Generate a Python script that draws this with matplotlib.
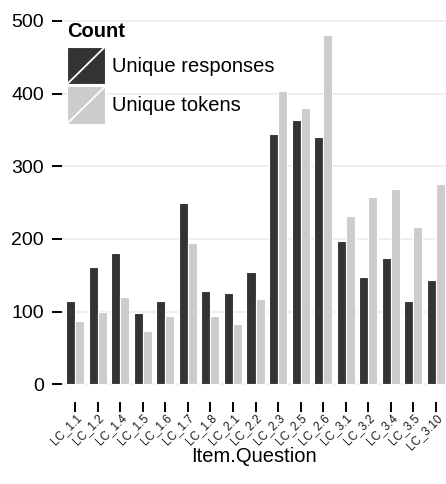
import matplotlib
matplotlib.use("Agg")
import matplotlib.pyplot as plt
import numpy as np
from matplotlib.patches import Rectangle
from matplotlib.lines import Line2D
from matplotlib.legend_handler import HandlerBase

plt.rcParams['font.family'] = ['Liberation Sans', 'DejaVu Sans']

categories = ["LC_1.1", "LC_1.2", "LC_1.4", "LC_1.5", "LC_1.6", "LC_1.7", "LC_1.8",
              "LC_2.1", "LC_2.2", "LC_2.3", "LC_2.5", "LC_2.6", "LC_3.1", "LC_3.2",
              "LC_3.4", "LC_3.5", "LC_3.10"]
unique_responses = [115, 161, 180, 98, 114, 250, 129, 125, 155, 345, 363, 340, 197, 148, 174, 115, 144]
unique_tokens = [87, 99, 120, 74, 94, 194, 94, 83, 117, 403, 380, 480, 231, 258, 269, 216, 276]
series_names = ["Unique responses", "Unique tokens"]
series_colors = ["#333333", "#CCCCCC"]
yticks = [0, 100, 200, 300, 400, 500]

W, H = 446, 484
fig = plt.figure(figsize=(W / 100, H / 100), dpi=100)
left_px, right_px = 61.5, 446
top_px, bot_px = 17.9, 401.8
ax = fig.add_axes([left_px / W, (H - bot_px) / H, (right_px - left_px) / W, (bot_px - top_px) / H])

x = np.arange(len(categories))
bw = 0.4
for i, (vals, col) in enumerate(zip([unique_responses, unique_tokens], series_colors)):
    offs = (i - 0.5) * bw
    ax.bar(x + offs, vals, width=bw, color=col, edgecolor="white", linewidth=0.8, zorder=3)

ax.set_xlim(-0.6, -0.6 + (right_px - left_px) / 22.56)
ax.set_ylim(-24, 504)
ax.set_yticks(yticks)
ax.set_yticklabels([str(v) for v in yticks])
ax.set_xticks(x)
ax.set_xticklabels(categories, rotation=45, ha="right", va="top", rotation_mode="anchor",
                   fontsize=8.5, color="#1a1a1a")

for s in ax.spines.values():
    s.set_visible(False)
ax.grid(axis="y", color="#EBEBEB", linewidth=1.1, zorder=0)
ax.grid(axis="x", visible=False)
ax.set_axisbelow(True)
ax.tick_params(axis="y", length=7.2, width=1.4, color="black", labelsize=14, pad=5.5, labelcolor="black")
ax.tick_params(axis="x", length=7.2, width=1.4, color="black", pad=0)
ax.set_xlabel("Item.Question", fontsize=14.5)
ax.xaxis.label.set_va("center")
ax.xaxis.set_label_coords(0.5, (bot_px - 457) / (bot_px - top_px))


class DiagHandler(HandlerBase):
    def create_artists(self, legend, orig_handle, xdescent, ydescent, width, height, fontsize, trans):
        r = Rectangle((-xdescent, -ydescent), width, height, facecolor=orig_handle.get_facecolor(),
                      edgecolor="white", linewidth=0.8, transform=trans)
        ln = Line2D([-xdescent, -xdescent + width], [-ydescent, -ydescent + height], color="white",
                    linewidth=1.3, transform=trans)
        return [r, ln]


handles = [Rectangle((0, 0), 1, 1, facecolor=c) for c in series_colors]
leg = ax.legend(handles, series_names, handler_map={Rectangle: DiagHandler()},
                title="Count", loc="upper left", bbox_to_anchor=(67 / W, 1 - 22 / H),
                bbox_transform=fig.transFigure, frameon=False, fontsize=14.5,
                title_fontproperties={"weight": "bold", "size": 14.5},
                handlelength=1.9, handleheight=2.5, labelspacing=0.1,
                handletextpad=0.35, borderpad=0, borderaxespad=0, alignment="left")
leg._legend_box.sep = 4.0

fig.savefig("out.png", dpi=100)
